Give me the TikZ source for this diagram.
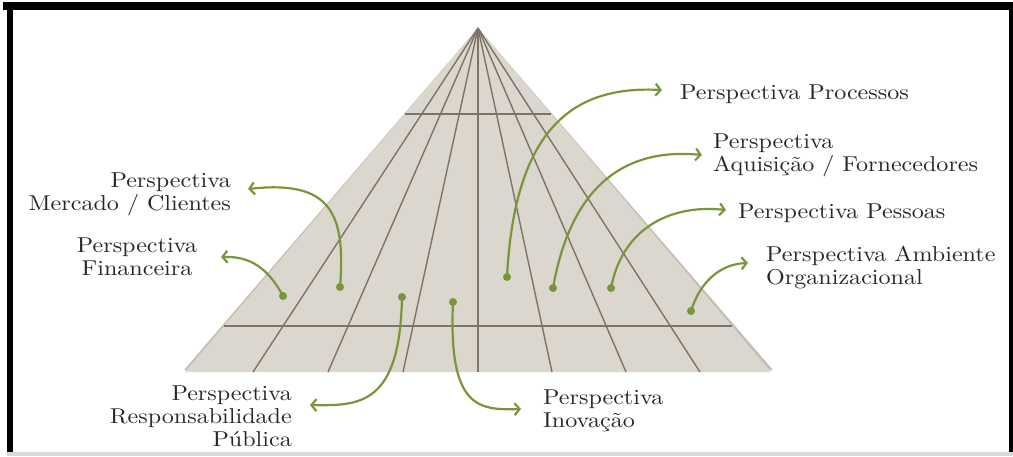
\documentclass[tikz,border=0pt]{standalone}
\usepackage{fontspec}
\setmainfont{lmroman10-regular.otf}[FakeStretch=1.12]
\usetikzlibrary{arrows.meta}
\definecolor{pyr}{RGB}{219,214,206}
\definecolor{pyredge}{RGB}{196,190,182}
\definecolor{pline}{RGB}{125,115,102}
\definecolor{grn}{RGB}{122,150,58}
\definecolor{txt}{RGB}{40,40,40}
\begin{document}
\begin{tikzpicture}[x=1pt,y=-1pt,
  lbl/.style={font=\fontsize{21.5}{23}\selectfont, text=txt, inner sep=0pt},
  dotn/.style={circle, fill=grn, inner sep=0pt, minimum size=8pt},
  conn/.style={draw=grn, line width=2.2pt, -{Straight Barb[length=5pt,width=12pt]}},
  pl/.style={draw=pline, line width=1.4pt},
  framebar/.style={fill=black}]
\useasboundingbox (0,0) rectangle (1013,456);
\fill[white] (0,0) rectangle (1013,456);
% frame
\fill[framebar] (3,2) rectangle (1012,10);
\fill[framebar] (7,2) rectangle (13,453);
\fill[framebar] (1009,2) rectangle (1013,453);
\fill[black!15] (7,452) rectangle (1013,456);
% pyramid
\coordinate (apex) at (478,28);
\coordinate (bl) at (185,372);
\coordinate (br) at (771,372);
\fill[pyredge] (apex) -- ([xshift=2pt,yshift=2pt]br) -- ([xshift=-1pt,yshift=2pt]bl) -- cycle;
\fill[pyr] (apex) -- (br) -- (bl) -- cycle;
\foreach \b in {253,328,403,478,552,626,700}
  \draw[pl] (apex) -- (\b,372);
\draw[pl] (404.8,114) -- (551.2,114);
\draw[pl] (224.2,326) -- (731.8,326);
% dots
\node[dotn] (dM) at (340,287) {};
\node[dotn] (dF) at (283,296) {};
\node[dotn] (dR) at (402,297) {};
\node[dotn] (dI) at (453,302) {};
\node[dotn] (dP) at (507,277) {};
\node[dotn] (dA) at (553,288) {};
\node[dotn] (dS) at (611,288) {};
\node[dotn] (dE) at (691,311) {};
% arrow tips
\coordinate (tM) at (248,189);
\coordinate (tF) at (221,257);
\coordinate (tR) at (310,405);
\coordinate (tI) at (521,409);
\coordinate (tP) at (662,90);
\coordinate (tA) at (702,155);
\coordinate (tS) at (726,210);
\coordinate (tE) at (748,263);
% connectors
\draw[conn] (dM.center) .. controls (346,212) and (330,180) .. (tM);
\draw[conn] (dF.center) .. controls (268,268) and (250,256) .. (tF);
\draw[conn] (dR.center) .. controls (400,405) and (360,406) .. (tR);
\draw[conn] (dI.center) .. controls (448,410) and (480,410) .. (tI);
\draw[conn] (dP.center) .. controls (515,120) and (580,86) .. (tP);
\draw[conn] (dA.center) .. controls (572,180) and (630,148) .. (tA);
\draw[conn] (dS.center) .. controls (622,230) and (668,204) .. (tS);
\draw[conn] (dE.center) .. controls (700,282) and (720,264) .. (tE);
% labels
\node[lbl, anchor=base west] (lP) at (680,99) {Perspectiva Processos};
\node[lbl, anchor=north west, align=left] (lA) at (713,134) {Perspectiva\\Aquisição / Fornecedores};
\node[lbl, anchor=base west] (lS) at (738,218) {Perspectiva Pessoas};
\node[lbl, anchor=north west, align=left] (lE) at (766,246) {Perspectiva Ambiente\\Organizacional};
\node[lbl, anchor=north east, align=right] (lM) at (231,173) {Perspectiva\\Mercado / Clientes};
\node[lbl, anchor=north, align=center] (lF) at (137,238) {Perspectiva\\Financeira};
\node[lbl, anchor=north east, align=right] (lR) at (292,386) {Perspectiva\\Responsabilidade\\Pública};
\node[lbl, anchor=north west, align=left] (lI) at (543,390) {Perspectiva\\Inovação};
\end{tikzpicture}
\end{document}
